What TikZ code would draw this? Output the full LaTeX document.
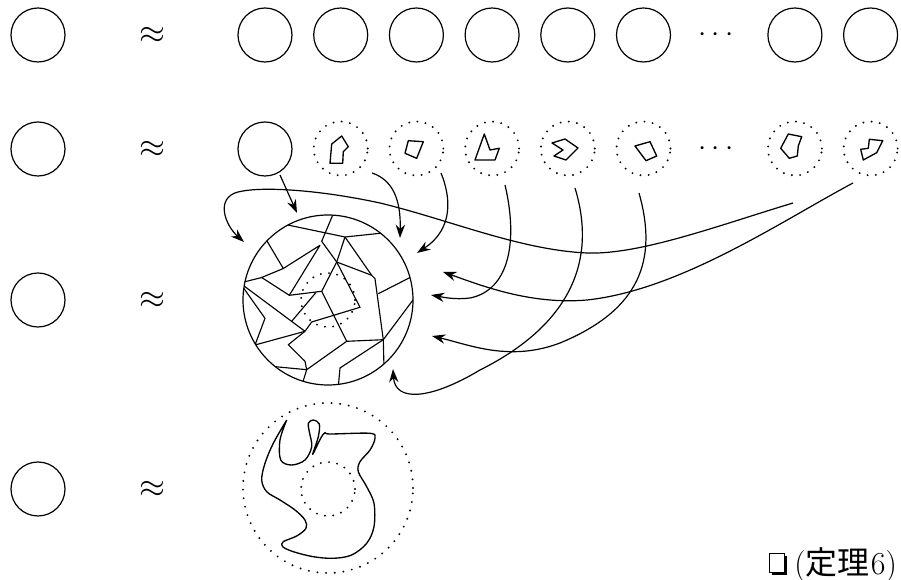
\RequirePackage{fix-cm}
\documentclass[tikz,border=0pt]{standalone}
\usepackage{fontspec}
\newfontfamily\cjk{Noto Sans CJK JP}
\usetikzlibrary{arrows.meta}
\begin{document}
\begin{tikzpicture}[x=0.75pt,y=-0.75pt,
  ln/.style={line width=0.85pt,line join=round},
  sc/.style={circle,draw,line width=0.9pt,inner sep=0pt,minimum size=40.5pt},
  dc/.style={circle,draw,line width=1.6pt,line cap=round,dash pattern=on 0pt off 6.2pt,inner sep=0pt,minimum size=40.5pt},
  bigc/.style={circle,draw,line width=0.9pt,inner sep=0pt,minimum size=127.5pt},
  bigd/.style={circle,draw,line width=1.6pt,line cap=round,dash pattern=on 0pt off 6.5pt,inner sep=0pt,minimum size=127.5pt},
  apx/.style={inner sep=0pt,font=\fontsize{25}{28}\selectfont},
  dts/.style={inner sep=0pt,font=\fontsize{22}{26}\selectfont},
  arr/.style={line width=0.9pt,-{Stealth[length=10pt,width=7pt]}},
  poly/.style={line width=1pt,line join=round},
]
\useasboundingbox (0,0) rectangle (901,580);

% left column
\node[sc] (L1) at (38,35) {};
\node[sc] (L2) at (38,149) {};
\node[sc] (L3) at (38,300) {};
\node[sc] (L4) at (38,489) {};
\node[apx] (A1) at (152,35) {$\approx$};
\node[apx] (A2) at (152,149) {$\approx$};
\node[apx] (A3) at (152,300) {$\approx$};
\node[apx] (A4) at (152,489) {$\approx$};

% row 1
\node[sc] (t0) at (265,35) {};
\node[sc] (t1) at (340.7,35) {};
\node[sc] (t2) at (416.4,35) {};
\node[sc] (t3) at (492.1,35) {};
\node[sc] (t4) at (567.8,35) {};
\node[sc] (t5) at (643.5,35) {};
\node[dts] (dt) at (716,35) {${\cdot}\kern4.3pt{\cdot}\kern4.3pt{\cdot}$};
\node[sc] (t7) at (794.9,35) {};
\node[sc] (t8) at (870.6,35) {};

% row 2
\node[sc] (m0) at (265,149) {};
\node[dc] (d1) at (340.7,148.5) {};
\node[dc] (d2) at (416.4,148.5) {};
\node[dc] (d3) at (492.1,148.5) {};
\node[dc] (d4) at (567.8,148.5) {};
\node[dc] (d5) at (643.5,148.5) {};
\node[dts] (dm) at (716,148.5) {${\cdot}\kern4.3pt{\cdot}\kern4.3pt{\cdot}$};
\node[dc] (d7) at (794.9,148.5) {};
\node[dc] (d8) at (870.6,148.5) {};

\draw[poly,shift={(d1.center)}] (-10.7,14.8) -- (-9,-4.5) -- (1,-12.5) -- (7.6,-1.8) -- (2.6,3.2) -- (2,14.8) -- cycle;
\draw[poly,shift={(d2.center)}] (-8.1,-7.8) -- (6.9,-6.8) -- (0.3,9.8) -- (-11.4,4.8) -- cycle;
\draw[poly,shift={(d3.center)}] (-7.8,-14.5) -- (-2.1,1.5) -- (7.2,-0.2) -- (2.9,11.5) -- (-17.1,11.5) -- cycle;
\draw[poly,shift={(d4.center)}] (-15.8,-5.5) -- (-2.8,-9.5) -- (10.2,-0.5) -- (-1.8,11.5) -- (-13.8,7.5) -- (-4.8,1.5) -- cycle;
\draw[poly,shift={(d5.center)}] (-8.5,-2.5) -- (6.5,-6.8) -- (13.2,7.5) -- (2.5,12.2) -- cycle;
\draw[poly,shift={(d7.center)}] (-6.6,-14.5) -- (6.8,-11.8) -- (3.4,-2.5) -- (2.4,7.5) -- (-5.6,9.8) -- (-14.2,-0.2) -- cycle;
\draw[poly,shift={(d8.center)}] (-1.3,-9.2) -- (12.1,-7.8) -- (6.1,4.2) -- (-7.3,11.5) -- (-9.9,0.8) -- (-2.3,-0.2) -- cycle;

% row 3: big circle with pieces
\node[bigc] (B) at (328,300) {};
\node[dc] (Bi) at (328,300) {};
\begin{scope}
\clip (B.center) circle[radius=63.75pt];
\draw[ln] (283,224) -- (345,237) -- (383,233);
\draw[ln] (334,212) -- (321.7,241.3) -- (336.7,262) -- (371.7,275.3) -- (375,278.7) -- (383.3,339.7) -- (384,368);
\draw[ln] (345,237) -- (336.7,262);
\draw[ln] (345,237) -- (371.7,275.3);
\draw[ln] (264,236) -- (283.3,268.5);
\draw[ln] (261.7,277.5) -- (283.3,268.5) -- (320,245.3) -- (289.3,295.3);
\draw[ln] (240,283) -- (261.7,277.5) -- (289.3,295.3) -- (321.7,291.3) -- (336.7,262);
\draw[ln] (240,283) -- (265,318.3) -- (255,345) -- (305,331.3);
\draw[ln] (240,283) -- (305,331.3);
\draw[ln] (291.7,321.3) -- (316,292.5);
\draw[ln] (321.7,291.3) -- (346.7,341.3) -- (383.3,339.7);
\draw[ln] (336.7,262) -- (360,307.3) -- (311.7,322) -- (305,331.3);
\draw[ln] (305,331.3) -- (288.3,344.7) -- (305,361.3) -- (306.7,369.7) -- (346.7,341.3);
\draw[ln] (268,366) -- (306.7,369.7) -- (301,388);
\draw[ln] (338,390) -- (340,368) -- (383.3,339.7);
\draw[ln] (383.3,339.7) -- (416,296);
\draw[ln] (378.3,293.7) -- (414,275.5);
\end{scope}

% row 4
\node[bigd] (O) at (328,488) {};
\node[dc] (Oi) at (328,489) {};
\draw[ln,line width=1pt] plot[smooth,tension=0.55] coordinates {
(286.7,420) (280,440) (280.7,460) (291.7,465) (305,460) (311.7,446.7) (309.3,431.7)
(308.3,423.3) (313.3,420) (319.3,424) (318.3,436.7) (312.7,454.3) (320.7,438.3)
(325,432.7) (330,434) (370,433.3) (375,438.3) (370,450) (360,461.7) (358.3,471.7)
(366.7,486.7) (374,503.3) (374,526.7) (366.7,543.3) (351.7,555) (333.3,558.3)
(313.3,556.7) (293.3,551.7) (282.7,546.7) (283.3,541.7) (296.7,536) (306,528.3)
(305,520) (295,510) (280,500) (266.7,491.7) (261.7,480) (265,463.3) (273.3,443.3)
(286.7,420)};

% arrow end points
\coordinate (s1) at (280,175);  \coordinate (e1) at (297,213);
\coordinate (s2) at (793,203);  \coordinate (e2) at (244,242);
\coordinate (s3) at (372,173);  \coordinate (e3) at (400,238);
\coordinate (s4) at (441,173);  \coordinate (e4) at (417,253);
\coordinate (s5) at (505,185);  \coordinate (e5) at (431,295);
\coordinate (s6) at (575,188);  \coordinate (e6) at (393,369);
\coordinate (s7) at (639,193);  \coordinate (e7) at (432,336);
\coordinate (s8) at (853,183);  \coordinate (e8) at (443,272);

\draw[arr] (s1) -- (e1);
\draw[arr] (s2) .. controls (720,225) and (640,255) .. (587,253)
  .. controls (520,250) and (450,220) .. (380,203)
  .. controls (320,190) and (262,186) .. (238,192)
  .. controls (215,198) and (225,225) .. (e2);
\draw[arr] (s3) .. controls (393,180) and (401,200) .. (e3);
\draw[arr] (s4) .. controls (450,195) and (455,228) .. (e4);
\draw[arr] (s5) .. controls (518,240) and (510,290) .. (470,298)
  .. controls (455,300) and (442,297) .. (e5);
\draw[arr] (s6) .. controls (600,270) and (560,330) .. (480,370)
  .. controls (430,400) and (395,402) .. (e6);
\draw[arr] (s7) .. controls (658,260) and (640,310) .. (560,343)
  .. controls (510,362) and (470,345) .. (e7);
\draw[arr] (s8) .. controls (780,222) and (680,290) .. (587,300)
  .. controls (530,305) and (480,285) .. (e8);

% end mark
\fill (772,556) rectangle (787,575);
\draw[fill=white,line width=0.6pt] (769,553) rectangle (784,572);
\node[anchor=base west,inner sep=0pt,font=\fontsize{24}{28}\selectfont] (thm) at (794,575) {({\cjk 定理}\kern1pt 6)};
\end{tikzpicture}
\end{document}
